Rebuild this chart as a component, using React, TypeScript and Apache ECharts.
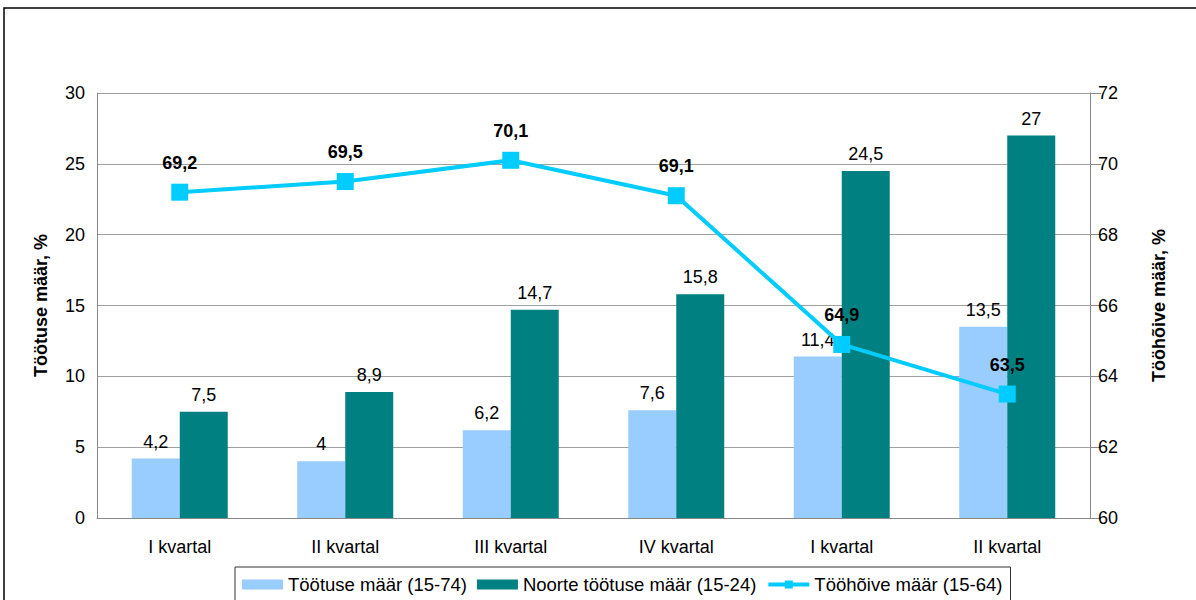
import React, { useEffect, useRef } from "react";
import * as echarts from "echarts";

const categories = ["I kvartal", "II kvartal", "III kvartal", "IV kvartal", "I kvartal", "II kvartal"];
const unemployment = [4.2, 4, 6.2, 7.6, 11.4, 13.5];
const youthUnemployment = [7.5, 8.9, 14.7, 15.8, 24.5, 27];
const employment = [69.2, 69.5, 70.1, 69.1, 64.9, 63.5];

const fmt = (v: number) => String(v).replace(".", ",");
const FONT = "'Liberation Sans', Arial, sans-serif";

export default function App() {
  const ref = useRef<HTMLDivElement>(null);
  useEffect(() => {
    const chart = echarts.init(ref.current!, null, { renderer: "svg" });
    chart.setOption({
      animation: false,
      textStyle: { fontFamily: FONT },
      graphic: [
        {
          type: "rect",
          shape: { x: 4, y: 8, width: 1200, height: 600 },
          style: { fill: "none", stroke: "#000", lineWidth: 1.5 },
          silent: true,
        },
      ],
      grid: { left: 97, right: 106, top: 93, bottom: 82, containLabel: false },
      legend: {
        top: 567,
        left: 235,
        itemWidth: 41,
        itemHeight: 10,
        itemGap: 10,
        padding: [8, 8, 14, 7],
        borderColor: "#333",
        borderWidth: 1,
        textStyle: { fontSize: 18.5, color: "#000", fontFamily: FONT },
        data: [
          { name: "Töötuse määr (15-74)", icon: "rect" },
          { name: "Noorte töötuse määr (15-24)", icon: "rect" },
          { name: "Tööhõive määr (15-64)", lineStyle: { width: 4, color: "#00CCFF" } },
        ],
      },
      xAxis: {
        type: "category",
        data: categories,
        axisLine: { lineStyle: { color: "#888" } },
        axisTick: { show: false },
        axisLabel: { fontSize: 18, color: "#000", margin: 20, fontFamily: FONT },
      },
      yAxis: [
        {
          type: "value",
          min: 0,
          max: 30,
          interval: 5,
          name: "Töötuse määr, %",
          nameLocation: "middle",
          nameGap: 47,
          nameTextStyle: { fontSize: 18, fontWeight: "bold", color: "#000", fontFamily: FONT },
          axisLine: { show: true, lineStyle: { color: "#888" } },
          axisTick: { show: false },
          axisLabel: { fontSize: 18, color: "#000", margin: 12, fontFamily: FONT },
          splitLine: { lineStyle: { color: "#a0a0a0" } },
        },
        {
          type: "value",
          min: 60,
          max: 72,
          interval: 2,
          name: "Tööhõive määr, %",
          nameLocation: "middle",
          nameGap: 60,
          nameRotate: 90,
          nameTextStyle: { fontSize: 18, fontWeight: "bold", color: "#000", fontFamily: FONT },
          axisLine: { show: true, lineStyle: { color: "#888" } },
          axisTick: { show: true, length: 11, lineStyle: { color: "#888" } },
          axisLabel: { fontSize: 18, color: "#000", margin: 8, fontFamily: FONT },
          splitLine: { show: false },
        },
      ],
      series: [
        {
          name: "Töötuse määr (15-74)",
          type: "bar",
          data: unemployment,
          barWidth: "29%",
          barGap: "0%",
          itemStyle: { color: "#99CCFF" },
          label: {
            show: true,
            position: "top",
            distance: 8,
            fontSize: 18,
            color: "#000",
            fontFamily: FONT,
            formatter: (p: any) => fmt(p.value),
          },
        },
        {
          name: "Noorte töötuse määr (15-24)",
          type: "bar",
          data: youthUnemployment,
          barWidth: "29%",
          barGap: "0%",
          itemStyle: { color: "#008080" },
          label: {
            show: true,
            position: "top",
            distance: 8,
            fontSize: 18,
            color: "#000",
            fontFamily: FONT,
            formatter: (p: any) => fmt(p.value),
          },
        },
        {
          name: "Tööhõive määr (15-64)",
          type: "line",
          yAxisIndex: 1,
          data: employment,
          symbol: "rect",
          symbolSize: 17,
          lineStyle: { color: "#00CCFF", width: 4 },
          itemStyle: { color: "#00CCFF" },
          label: {
            show: true,
            position: "top",
            distance: 12,
            fontSize: 18,
            fontWeight: "bold",
            color: "#000",
            fontFamily: FONT,
            formatter: (p: any) => fmt(p.value),
          },
        },
      ],
    });
    return () => chart.dispose();
  }, []);
  return (
    <div
      ref={ref}
      style={{ position: "absolute", left: 0, top: 0, width: 1196, height: 600, background: "#fff" }}
    />
  );
}
